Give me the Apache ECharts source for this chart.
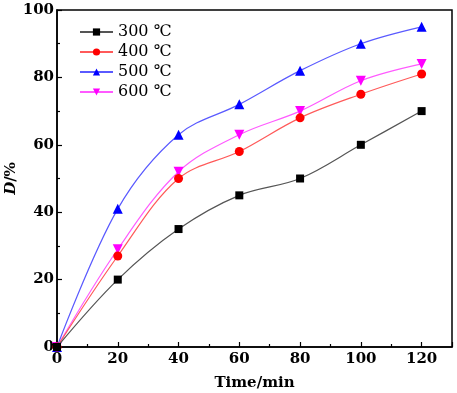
<!DOCTYPE html>
<html><head><meta charset="utf-8">
<script src="https://cdn.jsdelivr.net/npm/echarts@6/dist/echarts.min.js"></script>
<style>html,body{margin:0;padding:0;background:#fff}#c{width:457px;height:393px}</style>
</head><body><div id="c"></div>
<script>
const times = [0, 20, 40, 60, 80, 100, 120];
const seriesNames = ['300 ℃', '400 ℃', '500 ℃', '600 ℃'];
const d300 = [0, 20, 35, 45, 50, 60, 70];
const d400 = [0, 27, 50, 58, 68, 75, 81];
const d500 = [0, 41, 63, 72, 82, 90, 95];
const d600 = [0, 29, 52, 63, 70, 79, 84];
const xTicks = [0, 20, 40, 60, 80, 100, 120];
const yTicks = [0, 20, 40, 60, 80, 100];

const allData = [d300, d400, d500, d600];
const markerColors = ['#000000', '#ff0000', '#0000ff', '#ff00ff'];
const lineColors = ['#555555', '#ff5a5a', '#5a5aff', '#ff5aff'];
const symbols = ['rect', 'circle', 'triangle', 'path://M0,0 L10,0 L5,9 Z'];
const sizes = [8, 9, 10, 10];
const font = '"DejaVu Serif", "Liberation Serif", serif';

const chart = echarts.init(document.getElementById('c'));
chart.setOption({
  animation: false,
  backgroundColor: '#fff',
  grid: { left: 57, right: 5, top: 10, bottom: 46, outerBoundsMode: 'none', containLabel: false,
    show: true, borderColor: '#000', borderWidth: 1.5, backgroundColor: 'transparent' },
  legend: {
    orient: 'vertical', left: 74, top: 19, itemGap: 4, itemWidth: 33, itemHeight: 9,
    textStyle: { fontFamily: font, fontSize: 16, color: '#000' },
    data: seriesNames
  },
  xAxis: {
    type: 'value', min: 0, max: 130, interval: 20,
    name: 'Time/min', nameLocation: 'middle', nameGap: 29, nameMoveOverlap: false,
    nameTextStyle: { fontFamily: font, fontSize: 15, fontWeight: 'bold', color: '#000' },
    axisLine: { lineStyle: { color: '#000', width: 1.5 } },
    axisTick: { inside: true, length: 5, lineStyle: { color: '#000', width: 1.2 } },
    minorTick: { show: true, splitNumber: 2, length: 3, lineStyle: { color: '#000', width: 1.2 } },
    axisLabel: { fontFamily: font, fontSize: 15, fontWeight: 'bold', color: '#000', margin: 5,
      formatter: v => xTicks.includes(v) ? String(v) : '' },
    splitLine: { show: false }
  },
  yAxis: {
    type: 'value', min: 0, max: 100, interval: 20,
    name: '{i|D}/%', nameLocation: 'middle', nameGap: 38, nameRotate: 90, nameMoveOverlap: false,
    nameTextStyle: { fontFamily: font, fontSize: 15, fontWeight: 'bold', color: '#000',
      rich: { i: { fontFamily: font, fontSize: 15, fontWeight: 'bold', fontStyle: 'italic', color: '#000' } } },
    axisLine: { lineStyle: { color: '#000', width: 1.5 } },
    axisTick: { inside: true, length: 5, lineStyle: { color: '#000', width: 1.2 } },
    minorTick: { show: true, splitNumber: 2, length: 3, lineStyle: { color: '#000', width: 1.2 } },
    axisLabel: { fontFamily: font, fontSize: 15, fontWeight: 'bold', color: '#000', margin: 3,
      formatter: v => yTicks.includes(v) ? String(v) : '' },
    splitLine: { show: false }
  },
  series: allData.map((arr, i) => ({
    name: seriesNames[i], type: 'line', smooth: 0.35,
    data: times.map((t, j) => [t, arr[j]]),
    symbol: symbols[i], symbolSize: sizes[i], showAllSymbol: true,
    itemStyle: { color: markerColors[i] },
    lineStyle: { color: lineColors[i], width: 1.2 },
    z: 10 - i
  }))
});
</script></body></html>
